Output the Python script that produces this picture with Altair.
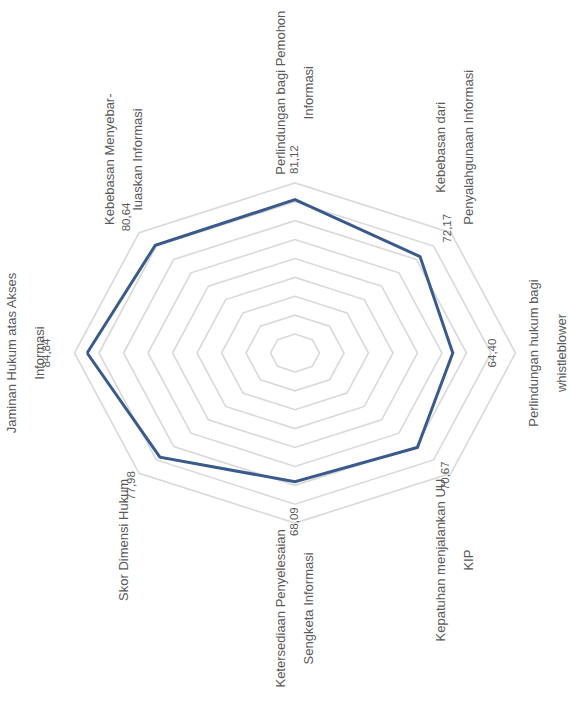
import math
import altair as alt
import pandas as pd

# ---------------- data ----------------
categories = [
    "Jaminan Hukum atas Akses Informasi",
    "Kebebasan Menyebarluaskan Informasi",
    "Perlindungan bagi Pemohon Informasi",
    "Kebebasan dari Penyalahgunaan Informasi",
    "Perlindungan hukum bagi whistleblower",
    "Kepatuhan menjalankan UU KIP",
    "Ketersediaan Penyelesaian Sengketa Informasi",
    "Skor Dimensi Hukum",
]
label_lines = [
    ["Jaminan Hukum atas Akses", "Informasi"],
    ["Kebebasan Menyebar-", "luaskan Informasi"],
    ["Perlindungan bagi Pemohon", "Informasi"],
    ["Kebebasan dari", "Penyalahgunaan Informasi"],
    ["Perlindungan hukum bagi", "whistleblower"],
    ["Kepatuhan menjalankan UU", "KIP"],
    ["Ketersediaan Penyelesaian", "Sengketa Informasi"],
    ["Skor Dimensi Hukum"],
]
values = [84.84, 80.64, 81.12, 72.17, 64.40, 70.67, 68.09, 77.98]
ring_levels = [10, 20, 30, 40, 50, 60, 70, 80, 90]

# ---------------- layout / style ----------------
W, H = 571, 704
CX, CY = 295, 353          # pixel position of the radar centre
KX, KY = 2.45, 1.89        # pixels per value unit (picture is stretched)
CAT_SIZE, VAL_SIZE, LINE_H = 13, 11.5, 28
FONT = "Liberation Sans"
TEXT_COLOR = "#595959"

x_dom = [-CX / KX, (W - CX) / KX]
y_dom = [-(H - CY) / KY, CY / KY]
n = len(categories)
R_MAX = max(ring_levels)


def theta(i):
    return math.pi - i * 2 * math.pi / n


def est_width(s, size):
    w = 0.0
    for ch in s:
        if ch in "ijl":
            w += 0.222
        elif ch in "ftI -":
            w += 0.278
        elif ch in "r":
            w += 0.333
        elif ch in ",.":
            w += 0.278
        elif ch in "mM":
            w += 0.833
        elif ch in "wW":
            w += 0.75
        elif ch in "ksvxyz":
            w += 0.5
        elif ch.isupper():
            w += 0.68
        else:
            w += 0.556
    return w * size


# rings
ring_rows = []
for lv in ring_levels:
    for k in range(n + 1):
        t = theta(k % n)
        ring_rows.append({"level": lv, "k": k, "x": lv * math.cos(t), "y": lv * math.sin(t)})
rings_df = pd.DataFrame(ring_rows)

# series
ser_rows = []
for k in range(n + 1):
    i = k % n
    t = theta(i)
    ser_rows.append({"k": k, "cat": categories[i], "x": values[i] * math.cos(t), "y": values[i] * math.sin(t)})
ser_df = pd.DataFrame(ser_rows)

# value labels, pushed outward radially by a fixed pixel gap
VGAP = 40
val_rows = []
for i, v in enumerate(values):
    t = theta(i)
    c, s = math.cos(t), math.sin(t)
    val_rows.append({
        "label": f"{v:.2f}".replace(".", ","),
        "x": v * c + VGAP * c / KX,
        "y": v * s + VGAP * s / KY,
    })
val_df = pd.DataFrame(val_rows)

# category labels, placed outside the outer ring
cat_rows = []
for i, lines in enumerate(label_lines):
    t = theta(i)
    c, s = math.cos(t), math.sin(t)
    vx, vy = R_MAX * c, R_MAX * s
    half_len = max(est_width(l, CAT_SIZE) for l in lines) / 2
    thick = (len(lines) - 1) * LINE_H + CAT_SIZE
    px_dx, px_dy = 0.0, 0.0
    if s > 0.3:
        px_dy = 8 + half_len
    elif s < -0.3:
        px_dy = -(6 + half_len)
    if abs(s) <= 0.3:
        if c > 0:
            px_dx = 12 + thick / 2
        else:
            px_dx = -(28 + thick / 2)
    elif c < -0.1:
        px_dx = -15
    elif c > 0.1:
        px_dx = 4
    # centre the block of rotated lines on the anchor
    px_dx -= (len(lines) - 1) * LINE_H / 2
    cat_rows.append({
        "label": "\n".join(lines),
        "x": vx + px_dx / KX,
        "y": vy + px_dy / KY,
    })
cat_df = pd.DataFrame(cat_rows)

xs = alt.Scale(domain=x_dom, nice=False, zero=False)
ys = alt.Scale(domain=y_dom, nice=False, zero=False)

rings = alt.Chart(rings_df).mark_line(color="#d9d9d9", strokeWidth=1.6).encode(
    x=alt.X("x:Q", scale=xs, axis=None),
    y=alt.Y("y:Q", scale=ys, axis=None),
    detail="level:N",
    order="k:Q",
)

series = alt.Chart(ser_df).mark_line(color="#3b5a8c", strokeWidth=3, strokeJoin="miter").encode(
    x=alt.X("x:Q", scale=xs, axis=None),
    y=alt.Y("y:Q", scale=ys, axis=None),
    order="k:Q",
)

val_text = alt.Chart(val_df).mark_text(
    angle=270, align="center", baseline="middle", font=FONT, fontSize=VAL_SIZE, color=TEXT_COLOR
).encode(
    x=alt.X("x:Q", scale=xs, axis=None),
    y=alt.Y("y:Q", scale=ys, axis=None),
    text="label:N",
)

cat_text = alt.Chart(cat_df).mark_text(
    angle=270, align="center", baseline="middle", font=FONT, fontSize=CAT_SIZE,
    color=TEXT_COLOR, lineBreak="\n", lineHeight=LINE_H
).encode(
    x=alt.X("x:Q", scale=xs, axis=None),
    y=alt.Y("y:Q", scale=ys, axis=None),
    text="label:N",
)

chart = alt.layer(rings, series, val_text, cat_text).properties(
    width=W, height=H, autosize="none", padding=0, background="white"
).configure_view(stroke=None)

chart.save("out.html", embed_options={"renderer": "svg", "actions": False})
